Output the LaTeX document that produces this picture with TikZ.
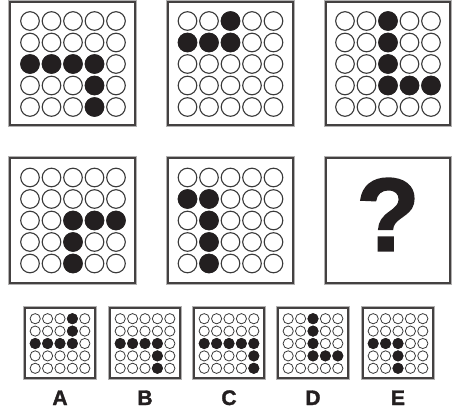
\documentclass[tikz,border=0pt]{standalone}
\usepackage{fontspec}
\setmainfont{Liberation Sans}
\newfontfamily\heavy[FakeBold=1.6]{Liberation Sans Bold}
\definecolor{ink}{HTML}{231F20}
\definecolor{ring}{HTML}{3A3A3A}
\begin{document}
\begin{tikzpicture}[x=1pt,y=-1pt,
  boxline/.style={draw=ink!85,line width=1.1pt},
  boxouter/.style={draw=ink!35,line width=0.6pt},
  lbl/.style={font=\fontsize{21}{21}\selectfont\heavy,text=ink,inner sep=0pt,anchor=base}]
\useasboundingbox (0,0) rectangle (453,410);
\newcommand\panel[4]{% x1,y1,x2,y2
  \draw[boxouter] ({#1-1.3},{#2-1.3}) rectangle ({#3+1.3},{#4+1.3});
  \draw[boxline] (#1,#2) rectangle (#3,#4);}
\newcommand\dotgrid[6]{% cx, cy, spacing, radius, linewidth, filled list col/row
  \foreach \c in {0,...,4}{\foreach \r in {0,...,4}{
    \draw[line width=#5,draw=ring,fill=white] ({#1+(\c-2)*#3},{#2+(\r-2)*#3}) circle[radius=#4];}}
  \foreach \c/\r in {#6}{
    \fill[ink] ({#1+(\c-2)*#3},{#2+(\r-2)*#3}) circle[radius={#4+0.4}];}}
% top row
\panel{10}{2}{135}{125}
\dotgrid{73}{64}{21.5}{9.3}{1.1pt}{0/2,1/2,2/2,3/2,3/3,3/4}
\panel{168}{2}{293}{125}
\dotgrid{230.5}{64}{21.5}{9.3}{1.1pt}{2/0,0/1,1/1,2/1}
\panel{326}{2}{450}{125}
\dotgrid{388}{64}{21.5}{9.3}{1.1pt}{2/0,2/1,2/2,2/3,3/3,4/3}
% middle row
\panel{10}{158}{135}{283}
\dotgrid{73}{220.5}{21.5}{9.3}{1.1pt}{2/2,3/2,4/2,2/3,2/4}
\panel{168}{158}{293}{283}
\dotgrid{230.5}{220.5}{21.5}{9.3}{1.1pt}{0/1,1/1,1/2,1/3,1/4}
\panel{326}{158}{450}{283}
\node[font=\fontsize{104}{104}\selectfont\heavy,text=ink,inner sep=0pt] (q) at (388,214.5) {?};
% answers
\panel{25}{308}{95}{378}
\dotgrid{60}{343.5}{12.4}{5.1}{0.8pt}{3/0,3/1,0/2,1/2,2/2,3/2}
\panel{110}{308}{180}{378}
\dotgrid{145}{343.5}{12.4}{5.1}{0.8pt}{0/2,1/2,2/2,3/2,3/3,3/4}
\panel{194}{308}{264}{378}
\dotgrid{229}{343.5}{12.4}{5.1}{0.8pt}{0/2,1/2,2/2,3/2,4/2,4/3,4/4}
\panel{278}{308}{348}{378}
\dotgrid{313}{343.5}{12.4}{5.1}{0.8pt}{2/0,2/1,2/2,2/3,3/3,4/3}
\panel{363}{308}{433}{378}
\dotgrid{398}{343.5}{12.4}{5.1}{0.8pt}{0/2,1/2,2/2,2/3,2/4}
\node[lbl] (la) at (60,405) {A};
\node[lbl] (lb) at (145,405) {B};
\node[lbl] (lc) at (229,405) {C};
\node[lbl] (ld) at (313,405) {D};
\node[lbl] (le) at (398,405) {E};
\end{tikzpicture}
\end{document}
